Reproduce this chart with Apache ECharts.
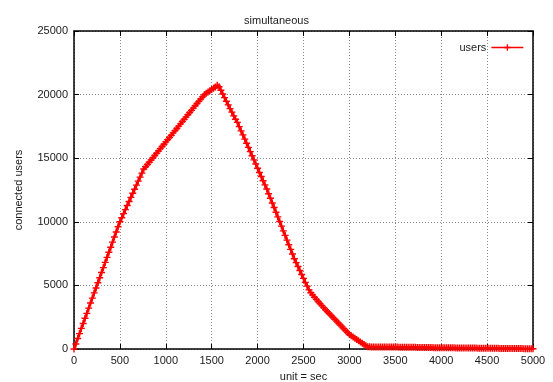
<!DOCTYPE html>
<html>
<head>
<meta charset="utf-8">
<script src="https://cdn.jsdelivr.net/npm/echarts@6/dist/echarts.min.js"></script>
<style>html,body{margin:0;padding:0;background:#fff;}#c{width:553px;height:382px;}</style>
</head>
<body>
<div id="c"></div>
<script>
var chartTitle = 'simultaneous';
var xAxisName = 'unit = sec';
var yAxisName = 'connected users';
var seriesName = 'users';
var xTicks = [0, 500, 1000, 1500, 2000, 2500, 3000, 3500, 4000, 4500, 5000];
var yTicks = [0, 5000, 10000, 15000, 20000, 25000];

var times = [
0,20,40,60,80,100,120,140,160,180,200,220,240,260,280,300,320,340,360,380,400,420,440,460,480,
500,520,540,560,580,600,620,640,660,680,700,720,740,760,780,800,820,840,860,880,900,920,940,960,980,
1000,1020,1040,1060,1080,1100,1120,1140,1160,1180,1200,1220,1240,1260,1280,1300,1320,1340,1360,1380,1400,1420,1440,1460,1480,
1500,1520,1540,1560,1580,1600,1620,1640,1660,1680,1700,1720,1740,1760,1780,1800,1820,1840,1860,1880,1900,1920,1940,1960,1980,
2000,2020,2040,2060,2080,2100,2120,2140,2160,2180,2200,2220,2240,2260,2280,2300,2320,2340,2360,2380,2400,2420,2440,2460,2480,
2500,2520,2540,2560,2580,2600,2620,2640,2660,2680,2700,2720,2740,2760,2780,2800,2820,2840,2860,2880,2900,2920,2940,2960,2980,
3000,3020,3040,3060,3080,3100,3120,3140,3160,3180,3200,3220,3240,3260,3280,3300,3320,3340,3360,3380,3400,3420,3440,3460,3480,
3500,3520,3540,3560,3580,3600,3620,3640,3660,3680,3700,3720,3740,3760,3780,3800,3820,3840,3860,3880,3900,3920,3940,3960,3980,
4000,4020,4040,4060,4080,4100,4120,4140,4160,4180,4200,4220,4240,4260,4280,4300,4320,4340,4360,4380,4400,4420,4440,4460,4480,
4500,4520,4540,4560,4580,4600,4620,4640,4660,4680,4700,4720,4740,4760,4780,4800,4820,4840,4860,4880,4900,4920,4940,4960,4980,
5000
];

var users = [
0,390,820,1210,1620,2010,2420,2800,3210,3620,4000,4410,4800,5210,5600,6010,6400,6810,7200,7610,8000,8400,8810,9200,9610,
10000,10320,10640,10960,11280,11600,11920,12240,12560,12880,13200,13510,13830,14150,14330,14500,14680,14860,15040,15210,15390,15570,15750,15920,16100,
16280,16460,16630,16810,16990,17170,17340,17520,17700,17880,18050,18230,18410,18590,18760,18940,19120,19300,19470,19650,19820,19980,20100,20210,20310,
20400,20500,20590,20740,20620,20340,20050,19760,19480,19190,18900,18620,18330,18060,17820,17480,17150,16830,16500,16170,15850,15520,15190,14870,14540,
14210,13880,13560,13230,12900,12580,12210,11850,11480,11120,10750,10390,10020,9660,9290,8930,8560,8200,7830,7470,7100,6790,6480,6170,5860,
5550,5240,4940,4650,4420,4240,4070,3900,3740,3570,3410,3250,3090,2940,2790,2640,2490,2340,2190,2040,1890,1740,1590,1440,1290,
1140,1040,940,840,740,640,550,450,350,250,170,168,166,165,163,162,160,159,158,157,156,155,154,152,151,
150,148,146,144,142,140,138,136,134,132,130,128,126,124,122,120,118,116,114,112,110,108,106,104,102,
100,98,97,95,94,92,90,89,87,86,84,82,81,79,78,76,74,73,71,70,68,66,65,63,62,
60,58,57,55,54,52,50,49,47,46,44,42,41,39,38,36,34,33,31,30,28,26,25,23,22,
20
];

var seriesData = times.map(function (t, i) { return [t, users[i]]; });

var FONT = 'Liberation Sans';
var TXT = '#1a1a1a';
var RED = '#ff0000';
var plus = 'path://M4,0h2v4h4v2h-4v4h-2v-4h-4v-2h4z';

var chart = echarts.init(document.getElementById('c'), null, {renderer: 'canvas'});
var xMin = xTicks[0], xMax = xTicks[xTicks.length - 1], xInt = xTicks[1] - xTicks[0];
var yMin = yTicks[0], yMax = yTicks[yTicks.length - 1], yInt = yTicks[1] - yTicks[0];

function mkAxis(base, pos, showSplit, showLabel) {
  return {
    type: 'value', position: pos, min: base.min, max: base.max, interval: base.interval,
    axisLine: {show: true, onZero: false, lineStyle: {color: '#000', width: 1.5}},
    axisTick: {show: true, inside: true, length: 5, lineStyle: {color: '#000'}},
    axisLabel: {show: showLabel, color: TXT, fontFamily: FONT, fontSize: 11, margin: 6,
      formatter: function (v) { return String(v); }},
    splitLine: {show: showSplit, lineStyle: {color: '#888', width: 1, type: [1, 2]}}
  };
}

var xb = {min: xMin, max: xMax, interval: xInt};
var yb = {min: yMin, max: yMax, interval: yInt};

var xA0 = mkAxis(xb, 'bottom', true, true);
xA0.name = xAxisName; xA0.nameLocation = 'middle'; xA0.nameGap = 22;
xA0.nameTextStyle = {color: TXT, fontFamily: FONT, fontSize: 11};
var xA1 = mkAxis(xb, 'top', false, false);

var yA0 = mkAxis(yb, 'left', true, true);
yA0.name = yAxisName; yA0.nameLocation = 'middle'; yA0.nameGap = 50;
yA0.nameTextStyle = {color: TXT, fontFamily: FONT, fontSize: 11};
var yA1 = mkAxis(yb, 'right', false, false);

chart.setOption({
  animation: false,
  backgroundColor: '#fff',
  title: {
    text: chartTitle, left: 'center', top: 10,
    textStyle: {color: TXT, fontFamily: FONT, fontSize: 11, fontWeight: 'normal'}
  },
  legend: {
    right: 24, top: 37, align: 'right', itemWidth: 32, itemHeight: 8, itemGap: 5,
    textStyle: {color: TXT, fontFamily: FONT, fontSize: 11},
    lineStyle: {color: RED, width: 1.3},
    itemStyle: {color: RED},
    data: [seriesName]
  },
  grid: {left: 74, right: 20, top: 31, bottom: 33, containLabel: false, outerBoundsMode: 'none'},
  xAxis: [xA0, xA1],
  yAxis: [yA0, yA1],
  series: [{
    name: seriesName, type: 'line', xAxisIndex: 0, yAxisIndex: 0,
    data: seriesData,
    symbol: plus, symbolSize: 7, showSymbol: true,
    lineStyle: {color: RED, width: 2.5},
    itemStyle: {color: RED, borderWidth: 0},
    z: 5
  }]
});
</script>
</body>
</html>
